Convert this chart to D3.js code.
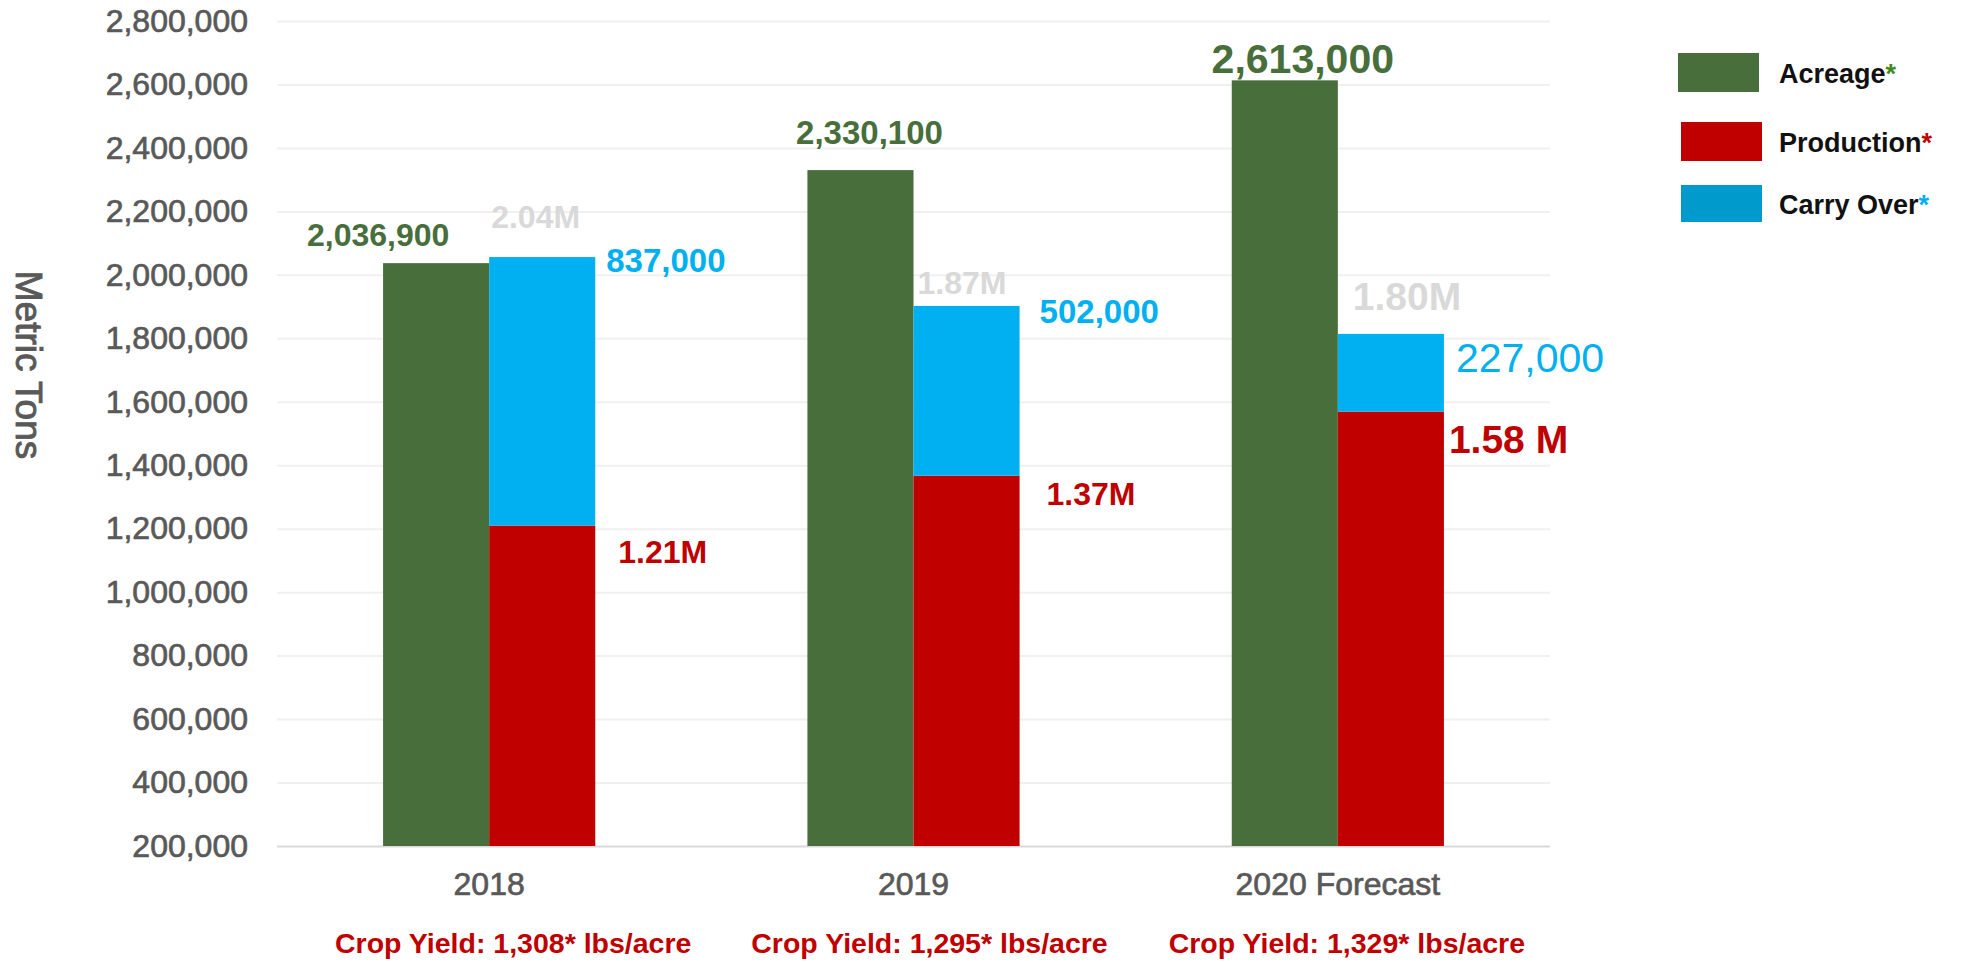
<!DOCTYPE html>
<html>
<head>
<meta charset="utf-8">
<title>Metric Tons by year</title>
<style>
  body { margin: 0; background: #fff; }
  svg text { font-family: "Liberation Sans", Arial, sans-serif; }
</style>
</head>
<body>
<svg width="1972" height="962"></svg>
<script src="https://cdnjs.cloudflare.com/ajax/libs/d3/7.8.5/d3.min.js"></script>
<script>

// ---- data ----
var years = ["2018", "2019", "2020 Forecast"];
var acreage = [2036900, 2330100, 2613000];
var production = [1210000, 1367000, 1569000];
var carryOver = [846000, 535000, 245000];

var acreageText = ["2,036,900", "2,330,100", "2,613,000"];
var productionText = ["1.21M", "1.37M", "1.58 M"];
var carryText = ["837,000", "502,000", "227,000"];
var totalText = ["2.04M", "1.87M", "1.80M"];
var yieldText = ["Crop Yield: 1,308* lbs/acre", "Crop Yield: 1,295* lbs/acre", "Crop Yield: 1,329* lbs/acre"];

var yTicks = [200000, 400000, 600000, 800000, 1000000, 1200000, 1400000,
              1600000, 1800000, 2000000, 2200000, 2400000, 2600000, 2800000];

var legendNames = ["Acreage", "Production", "Carry Over"];

// ---- look ----
var green = "#476e3b", red = "#c00000", blue = "#00b0f0";
var legendColors = ["#476e3b", "#c00000", "#009bcc"];
var starColors = ["#3f8a1f", "#c00000", "#00b0f0"];

// hand placed labels in the original: [dx, dy, fontSize]
var acreageNudge = [[-58, -17, 32], [9, -26, 33], [18, -7, 41]];
var totalNudge = [[2, -29, 32], [4, -12, 32], [15, -24, 39]];
var carryNudge = [[11, 15, 33], [20, 17, 33], [12, 38, 41]];
var prodNudge = [[23, 37, 32], [27, 29, 32], [5, 41, 39]];
var yieldShift = [24, 16, 9];

var svg = d3.select("svg");
var plotLeft = 277, plotRight = 1550, plotTop = 21, plotBottom = 846;

var x0 = d3.scaleBand().domain(years).range([plotLeft, plotRight]).paddingInner(0.5).paddingOuter(0.25);
var x1 = d3.scaleBand().domain(["acreage", "stack"]).range([0, x0.bandwidth()]);
var y = d3.scaleLinear().domain([200000, 2800000]).range([plotBottom, plotTop]);

// y axis with gridlines
var yAxis = svg.append("g")
    .attr("transform", "translate(" + plotLeft + ",0)")
    .call(d3.axisLeft(y).tickValues(yTicks).tickFormat(d3.format(","))
        .tickSize(-(plotRight - plotLeft)).tickPadding(29));
yAxis.select(".domain").remove();
yAxis.selectAll(".tick line")
    .attr("stroke", function (d) { return d === 200000 ? "#d9d9d9" : "#f0f0f0"; })
    .attr("stroke-width", 2);
yAxis.selectAll(".tick text")
    .attr("fill", "#595959")
    .attr("stroke", "#595959")
    .attr("stroke-width", 0.7)
    .style("font-size", "32px");

// x axis
var xAxis = svg.append("g")
    .attr("transform", "translate(0," + plotBottom + ")")
    .call(d3.axisBottom(x0).tickSize(0).tickPadding(26));
xAxis.select(".domain").remove();
xAxis.selectAll(".tick text")
    .attr("fill", "#595959")
    .attr("stroke", "#595959")
    .attr("stroke-width", 0.7)
    .style("font-size", "32px");

// axis title
svg.append("text")
    .attr("transform", "translate(16,365) rotate(90)")
    .attr("text-anchor", "middle")
    .attr("fill", "#595959")
    .attr("stroke", "#595959")
    .attr("stroke-width", 0.9)
    .style("font-size", "37px")
    .text("Metric Tons");

var groups = svg.selectAll(".grp")
    .data(years)
    .enter().append("g")
    .attr("class", "grp")
    .attr("transform", function (d) { return "translate(" + x0(d) + ",0)"; });

// acreage bars
groups.append("rect")
    .attr("x", x1("acreage"))
    .attr("width", x1.bandwidth())
    .attr("y", function (d, i) { return y(acreage[i]); })
    .attr("height", function (d, i) { return y(200000) - y(acreage[i]); })
    .attr("fill", green);

// production (bottom of stack)
groups.append("rect")
    .attr("x", x1("stack"))
    .attr("width", x1.bandwidth())
    .attr("y", function (d, i) { return y(production[i]); })
    .attr("height", function (d, i) { return y(200000) - y(production[i]); })
    .attr("fill", red);

// carry over on top
groups.append("rect")
    .attr("x", x1("stack"))
    .attr("width", x1.bandwidth())
    .attr("y", function (d, i) { return y(production[i] + carryOver[i]); })
    .attr("height", function (d, i) { return y(production[i]) - y(production[i] + carryOver[i]); })
    .attr("fill", blue);

// labels
groups.append("text")
    .attr("x", function (d, i) { return x1("acreage") + x1.bandwidth() / 2 + acreageNudge[i][0]; })
    .attr("y", function (d, i) { return y(acreage[i]) + acreageNudge[i][1]; })
    .attr("text-anchor", "middle")
    .attr("fill", green)
    .attr("font-weight", "bold")
    .style("font-size", function (d, i) { return acreageNudge[i][2] + "px"; })
    .text(function (d, i) { return acreageText[i]; });

groups.append("text")
    .attr("x", function (d, i) { return x1("stack") + totalNudge[i][0]; })
    .attr("y", function (d, i) { return y(production[i] + carryOver[i]) + totalNudge[i][1]; })
    .attr("fill", "#d9d9d9")
    .attr("font-weight", "bold")
    .style("font-size", function (d, i) { return totalNudge[i][2] + "px"; })
    .text(function (d, i) { return totalText[i]; });

groups.append("text")
    .attr("x", function (d, i) { return x1("stack") + x1.bandwidth() + carryNudge[i][0]; })
    .attr("y", function (d, i) { return y(production[i] + carryOver[i]) + carryNudge[i][1]; })
    .attr("fill", blue)
    .attr("font-weight", function (d, i) { return i === 2 ? "normal" : "bold"; })
    .style("font-size", function (d, i) { return carryNudge[i][2] + "px"; })
    .text(function (d, i) { return carryText[i]; });

groups.append("text")
    .attr("x", function (d, i) { return x1("stack") + x1.bandwidth() + prodNudge[i][0]; })
    .attr("y", function (d, i) { return y(production[i]) + prodNudge[i][1]; })
    .attr("fill", red)
    .attr("font-weight", "bold")
    .style("font-size", function (d, i) { return prodNudge[i][2] + "px"; })
    .text(function (d, i) { return productionText[i]; });

// crop yield notes under the axis
groups.append("text")
    .attr("x", function (d, i) { return x0.bandwidth() / 2 + yieldShift[i]; })
    .attr("y", 953)
    .attr("text-anchor", "middle")
    .attr("fill", red)
    .attr("font-weight", "bold")
    .style("font-size", "28.5px")
    .text(function (d, i) { return yieldText[i]; });

// legend
var legend = svg.selectAll(".leg")
    .data(legendNames)
    .enter().append("g")
    .attr("class", "leg")
    .attr("transform", function (d, i) { return "translate(0," + [53, 122, 185][i] + ")"; });

legend.append("rect")
    .attr("x", function (d, i) { return i === 0 ? 1678 : 1681; })
    .attr("width", 81)
    .attr("height", function (d, i) { return i === 2 ? 37 : 39; })
    .attr("fill", function (d, i) { return legendColors[i]; });

var lt = legend.append("text")
    .attr("x", 1779)
    .attr("y", function (d, i) { return [30, 30, 29][i]; })
    .attr("font-weight", "bold")
    .attr("fill", "#111")
    .style("font-size", "27px");
lt.append("tspan").text(function (d) { return d; });
lt.append("tspan")
    .attr("fill", function (d, i) { return starColors[i]; })
    .text("*");

</script>
</body>
</html>
